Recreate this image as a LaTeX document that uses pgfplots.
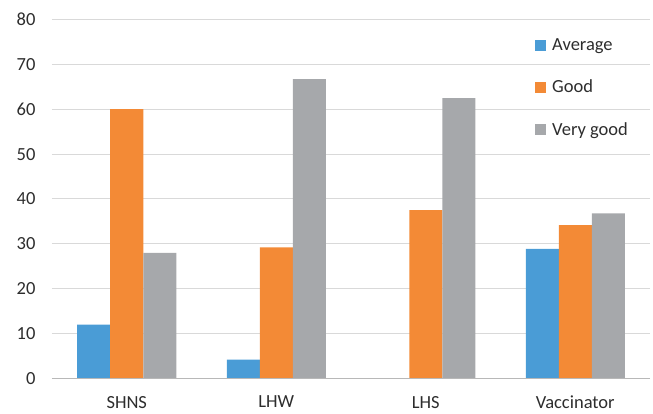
\documentclass[border=0pt]{standalone}
\usepackage{fontspec}
\setmainfont{Carlito}
\usepackage{pgfplots}
\pgfplotsset{compat=1.18}
\definecolor{cAvg}{RGB}{74,156,214}
\definecolor{cGood}{RGB}{243,138,54}
\definecolor{cVery}{RGB}{166,168,171}
\definecolor{cGrid}{RGB}{217,217,217}
\definecolor{cText}{RGB}{45,45,45}
\begin{document}
\begin{tikzpicture}
\begin{axis}[
  at={(0pt,0pt)}, anchor=south west,
  scale only axis,
  width=598pt, height=359pt,
  xmin=-0.5, xmax=3.5,
  ymin=0, ymax=80,
  ytick={0,10,...,80},
  xtick={0,1,2,3},
  xticklabels={SHNS,LHW,LHS,Vaccinator},
  major tick length=0pt,
  axis line style={draw=none},
  ymajorgrids,
  grid style={cGrid, line width=1pt},
  /pgf/number format/assume math mode=true,
  tick label style={font=\fontsize{18.5}{20}\selectfont, text=cText},
  yticklabel style={anchor=east, xshift=-13pt},
  xticklabel style={anchor=north, yshift=-14pt},
  ybar=0pt,
  bar width=33pt,
  legend style={
    draw=none, fill=none,
    at={(rel axis cs:0.8077,0.953)}, anchor=north west,
    font=\fontsize{18.5}{20}\selectfont, text=cText,
    inner sep=0pt, row sep=24pt,
    /tikz/every odd column/.style={column sep=4pt},
  },
  legend cell align=left,
  legend image code/.code={\fill[#1] (0pt,-5.5pt) rectangle (11pt,5.5pt);},
]
\addplot[fill=cAvg, draw=none] coordinates {(0,12) (1,4.2) (2,0) (3,28.9)};
\addplot[fill=cGood, draw=none] coordinates {(0,60) (1,29.2) (2,37.5) (3,34.2)};
\addplot[fill=cVery, draw=none] coordinates {(0,28) (1,66.7) (2,62.5) (3,36.8)};
\legend{Average, Good, Very good}
\draw[cGrid!85!black, line width=1.2pt] (axis cs:-0.5,0) -- (axis cs:3.5,0);
\end{axis}
\useasboundingbox (-52pt,-35.5pt) rectangle (601pt,378.5pt);
\end{tikzpicture}
\end{document}
